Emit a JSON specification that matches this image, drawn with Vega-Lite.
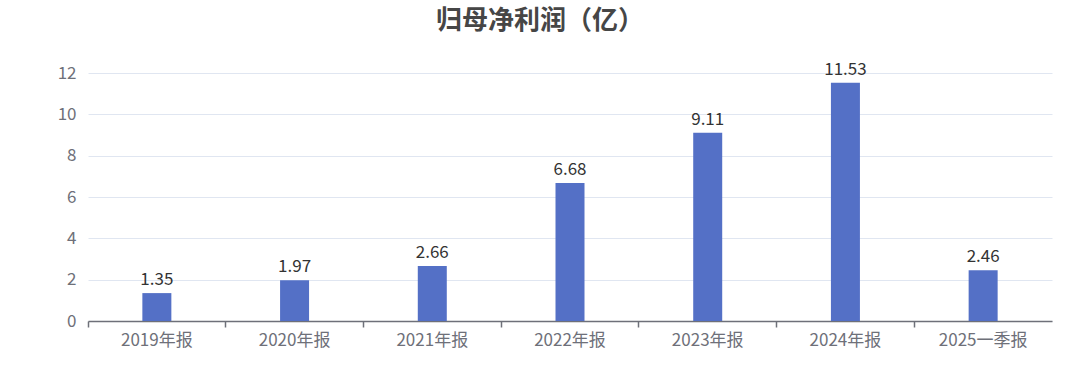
{
  "$schema": "https://vega.github.io/schema/vega-lite/v6.json",
  "autosize": {"type": "none"},
  "padding": {"left": 88, "top": 73, "right": 28, "bottom": 58},
  "width": 964,
  "height": 248,
  "background": "#ffffff",
  "title": {
    "text": "归母净利润（亿）",
    "anchor": "middle",
    "font": "Noto Sans CJK SC",
    "fontSize": 26,
    "fontWeight": "bold",
    "color": "#464646",
    "offset": 27,
    "dx": -30
  },
  "data": {
    "values": [
      {"period": "2019年报", "value": 1.35},
      {"period": "2020年报", "value": 1.97},
      {"period": "2021年报", "value": 2.66},
      {"period": "2022年报", "value": 6.68},
      {"period": "2023年报", "value": 9.11},
      {"period": "2024年报", "value": 11.53},
      {"period": "2025一季报", "value": 2.46}
    ]
  },
  "config": {
    "view": {"stroke": null},
    "font": "Noto Sans CJK SC"
  },
  "encoding": {
    "x": {
      "field": "period",
      "type": "nominal",
      "sort": null,
      "scale": {"paddingInner": 0, "paddingOuter": 0},
      "axis": {
        "title": null,
        "labelAngle": 0,
        "labelFont": "Noto Sans CJK SC",
        "labelFontSize": 17,
        "labelColor": "#6e7079",
        "labelPadding": 5,
        "domainColor": "#6e7079",
        "domainWidth": 1.5,
        "tickColor": "#6e7079",
        "tickSize": 6,
        "tickWidth": 1.5,
        "bandPosition": 0,
        "grid": false
      }
    },
    "y": {
      "field": "value",
      "type": "quantitative",
      "scale": {"domain": [0, 12]},
      "axis": {
        "title": null,
        "values": [0, 2, 4, 6, 8, 10, 12],
        "labelFont": "Noto Sans CJK SC",
        "labelFontSize": 17,
        "labelColor": "#6e7079",
        "labelPadding": 12,
        "domain": false,
        "ticks": false,
        "grid": true,
        "gridColor": "#e0e6f1",
        "gridWidth": 1
      }
    }
  },
  "layer": [
    {
      "mark": {"type": "bar", "color": "#5470c6", "width": 29}
    },
    {
      "mark": {
        "type": "text",
        "baseline": "bottom",
        "dy": -4,
        "fontSize": 17,
        "color": "#333333",
        "font": "Noto Sans CJK SC"
      },
      "encoding": {
        "text": {"field": "value", "type": "quantitative", "format": ".2f"}
      }
    }
  ]
}
